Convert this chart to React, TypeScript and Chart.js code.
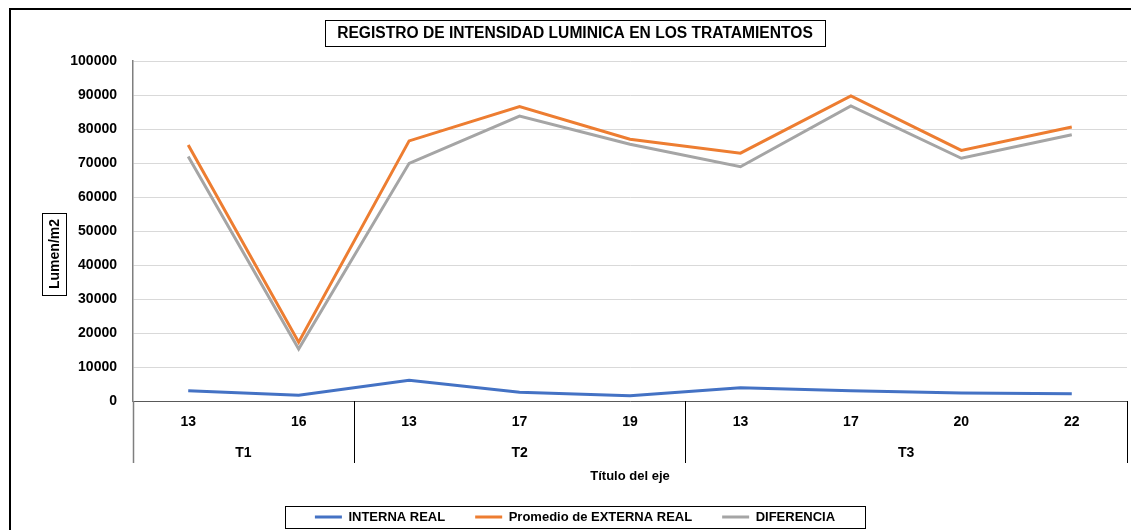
import React, { useEffect, useRef } from 'react';
import { Chart, registerables } from 'chart.js';

Chart.register(...registerables);

const categories = ['13', '16', '13', '17', '19', '13', '17', '20', '22'];
const groups = ['T1', 'T2', 'T3'];
const groupSizes = [2, 3, 4];
const internaReal = [3000, 1700, 6100, 2550, 1560, 3900, 3000, 2350, 2150];
const externaReal = [75300, 17300, 76500, 86600, 77000, 72900, 89700, 73700, 80600];
const diferencia = [71900, 15300, 69900, 83800, 75500, 68900, 86800, 71400, 78300];
const seriesNames = ['INTERNA REAL', 'Promedio de EXTERNA REAL', 'DIFERENCIA'];
const seriesColors = ['#4472C4', '#ED7D31', '#A5A5A5'];
const yMin = 0;
const yMax = 100000;
const yStep = 10000;
const titleText = 'REGISTRO DE INTENSIDAD LUMINICA EN LOS TRATAMIENTOS';
const yTitle = 'Lumen/m2';
const xTitle = 'Título del eje';

const FONT = "'Liberation Sans', Arial, sans-serif";
const TITLE_SIZE = 15.6;

const decor = {
  id: 'decor',
  afterDraw(chart: any) {
    const { ctx, chartArea, scales } = chart;
    const x = scales.x;
    ctx.save();

    // outer chart frame
    ctx.strokeStyle = '#000';
    ctx.lineWidth = 2;
    ctx.beginPath();
    ctx.moveTo(10, 540);
    ctx.lineTo(10, 9);
    ctx.lineTo(1140, 9);
    ctx.stroke();

    // title box
    const tb = chart.titleBlock;
    ctx.font = `bold ${TITLE_SIZE}px ${FONT}`;
    const tw = ctx.measureText(titleText).width;
    const tcx = (tb.left + tb.right) / 2;
    const tcy = tb.top + 24 + (TITLE_SIZE * 1.2) / 2;
    ctx.lineWidth = 1;
    ctx.strokeRect(Math.round(tcx - tw / 2 - 12) + 0.5, Math.round(tcy - 13) + 0.5, Math.round(tw + 24), 26);

    // y axis title with box
    const ycx = 54;
    const ycy = 254;
    ctx.font = `bold 14px ${FONT}`;
    const yw = ctx.measureText(yTitle).width;
    ctx.save();
    ctx.translate(ycx, ycy);
    ctx.rotate(-Math.PI / 2);
    ctx.fillStyle = '#000';
    ctx.textAlign = 'center';
    ctx.textBaseline = 'middle';
    ctx.fillText(yTitle, 0, 1);
    ctx.restore();
    ctx.strokeRect(ycx - 12 + 0.5, Math.round(ycy - yw / 2 - 6) + 0.5, 24, Math.round(yw + 12));

    // multi-level category axis: separators and group labels
    const bottom = chartArea.bottom;
    const bounds: number[] = [chartArea.left];
    let idx = 0;
    groupSizes.forEach((n, gi) => {
      idx += n;
      if (gi < groupSizes.length - 1) {
        bounds.push((x.getPixelForTick(idx - 1) + x.getPixelForTick(idx)) / 2);
      }
    });
    bounds.push(chartArea.right);
    bounds.forEach((bx, i) => {
      ctx.strokeStyle = i === 0 ? '#7f7f7f' : '#000';
      ctx.lineWidth = i === 0 ? 1.5 : 1;
      ctx.beginPath();
      ctx.moveTo(Math.round(bx) + 0.5, bottom);
      ctx.lineTo(Math.round(bx) + 0.5, bottom + 62);
      ctx.stroke();
    });
    ctx.font = `bold 14px ${FONT}`;
    ctx.fillStyle = '#000';
    ctx.textAlign = 'center';
    ctx.textBaseline = 'middle';
    groups.forEach((g, gi) => {
      ctx.fillText(g, (bounds[gi] + bounds[gi + 1]) / 2, bottom + 52);
    });

    // legend frame
    const hb = chart.legend?.legendHitBoxes || [];
    if (hb.length) {
      const l = Math.min(...hb.map((h: any) => h.left));
      const r = Math.max(...hb.map((h: any) => h.left + h.width));
      const cy = hb[0].top + hb[0].height / 2;
      ctx.strokeStyle = '#000';
      ctx.lineWidth = 1;
      ctx.strokeRect(Math.round(l - 30) + 0.5, Math.round(cy - 11) + 0.5, Math.round(r - l + 60), 22);
    }
    ctx.restore();
  },
};

export default function App() {
  const ref = useRef<HTMLCanvasElement>(null);
  useEffect(() => {
    const canvas = ref.current!;
    const chart = new Chart(canvas, {
      type: 'line',
      data: {
        labels: categories,
        datasets: [internaReal, externaReal, diferencia].map((d, i) => ({
          label: seriesNames[i],
          data: d,
          borderColor: seriesColors[i],
          backgroundColor: seriesColors[i],
          borderWidth: 3,
          pointRadius: 0,
          tension: 0,
        })),
      },
      options: {
        responsive: false,
        animation: false,
        layout: { padding: { top: 0, left: 23, right: 4, bottom: -3.5 } },
        plugins: {
          title: {
            display: true,
            text: titleText,
            color: '#000',
            font: { family: FONT, size: TITLE_SIZE, weight: 'bold' },
            padding: { top: 24, bottom: 43 - 24 - TITLE_SIZE * 1.2 + 18 },
          },
          legend: {
            position: 'bottom',
            labels: {
              boxWidth: 27,
              boxHeight: 3,
              padding: 30,
              color: '#000',
              font: { family: FONT, size: 13, weight: 'bold' },
              generateLabels: (c: any) =>
                c.data.datasets.map((ds: any, i: number) => ({
                  text: ds.label,
                  fillStyle: ds.borderColor,
                  strokeStyle: ds.borderColor,
                  lineWidth: 0,
                  hidden: false,
                  datasetIndex: i,
                })),
            },
          },
          tooltip: { enabled: false },
        },
        scales: {
          x: {
            offset: true,
            grid: { display: false, drawTicks: false, offset: true },
            border: { display: true, color: '#595959', width: 1 },
            ticks: {
              color: '#000',
              font: { family: FONT, size: 14, weight: 'bold' },
              padding: 12.6,
              maxRotation: 0,
              autoSkip: false,
            },
            title: {
              display: true,
              text: xTitle,
              color: '#000',
              font: { family: FONT, size: 13, weight: 'bold' },
              padding: { top: 0, bottom: -3.3 },
            },
            afterFit: (s: any) => {
              s.height = 79.5;
            },
          },
          y: {
            min: yMin,
            max: yMax,
            ticks: {
              stepSize: yStep,
              color: '#000',
              font: { family: FONT, size: 14, weight: 'bold' },
              padding: 16,
              callback: (v: any) => String(v),
            },
            grid: { color: '#d9d9d9', drawTicks: false },
            border: { color: '#7f7f7f', width: 1.5 },
            afterFit: (s: any) => {
              s.width = 110;
            },
          },
        },
      } as any,
      plugins: [decor],
    });
    return () => chart.destroy();
  }, []);
  return (
    <div style={{ position: 'fixed', left: 0, top: 0, width: 1131, height: 530, background: '#fff', overflow: 'hidden' }}>
      <canvas ref={ref} width={1131} height={530} style={{ display: 'block' }} />
    </div>
  );
}
